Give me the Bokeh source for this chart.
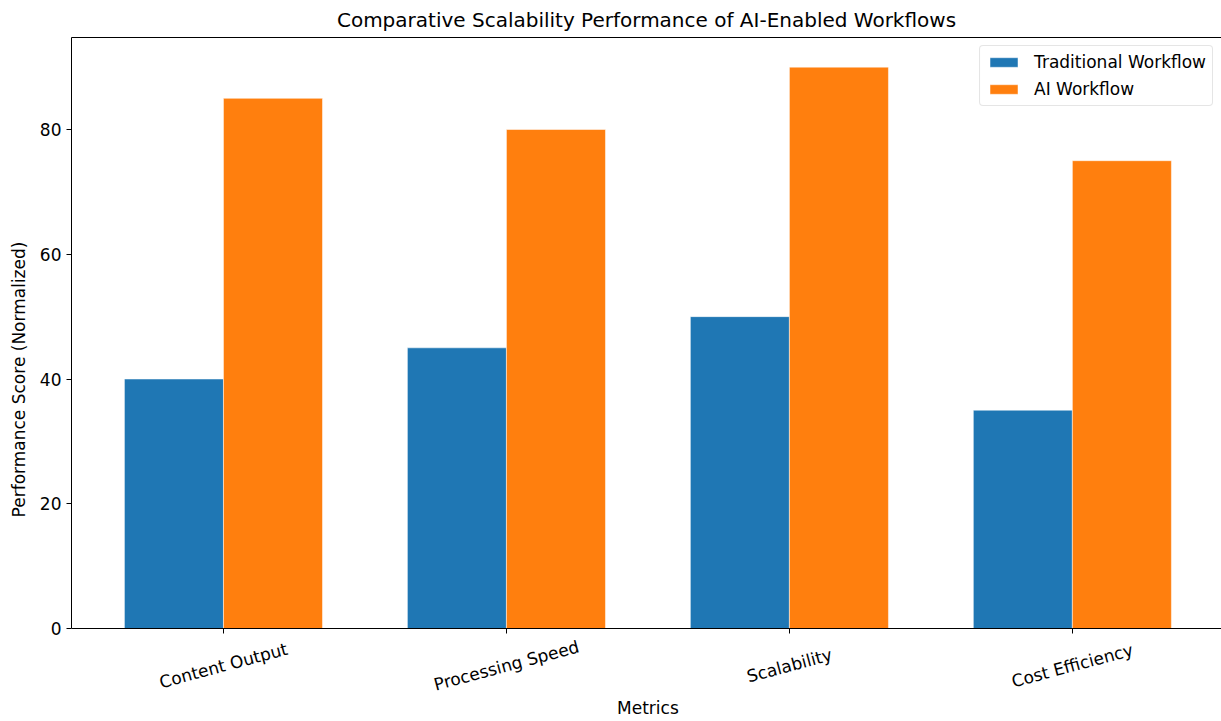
import math
from bokeh.plotting import figure
from bokeh.models import ColumnDataSource, FixedTicker, Range1d, Legend, LegendItem, LinearAxis
from bokeh.core.properties import value
from bokeh.embed import file_html
from bokeh.resources import INLINE

categories = ["Content Output", "Processing Speed", "Scalability", "Cost Efficiency"]
traditional = [40, 45, 50, 35]
ai = [85, 80, 90, 75]
series_names = ["Traditional Workflow", "AI Workflow"]
y_ticks = [0, 20, 40, 60, 80]

bar_w = 0.35
idx = list(range(len(categories)))
src_t = ColumnDataSource(dict(x=[i - bar_w / 2 for i in idx], top=traditional))
src_a = ColumnDataSource(dict(x=[i + bar_w / 2 for i in idx], top=ai))
src_lab = ColumnDataSource(dict(x=idx, y=[0] * len(idx), text=categories))

FONT = "DejaVu Sans"
Y_TOP = 94.75
Y_START = -14.91   # room below the zero line for the rotated category labels
X_START, X_END = -0.537, 3.527

p = figure(width=1221, height=721, output_backend="svg", toolbar_location=None,
           x_range=Range1d(X_START, X_END), y_range=Range1d(Y_START, Y_TOP),
           x_axis_location=None, y_axis_location=None,
           min_border_left=71, min_border_right=0, min_border_top=37, min_border_bottom=0)
p.title.text = "Comparative Scalability Performance of AI-Enabled Workflows"
p.title.align = "center"
p.title.text_font = FONT
p.title.text_font_size = "20px"
p.title.text_font_style = "normal"
p.title.text_color = "black"
p.title.standoff = 11

r1 = p.vbar(x="x", top="top", width=bar_w, bottom=0, source=src_t, fill_color="#1f77b4", line_color="white", line_width=0.5)
r2 = p.vbar(x="x", top="top", width=bar_w, bottom=0, source=src_a, fill_color="#ff7f0e", line_color="white", line_width=0.5)

p.xgrid.visible = False
p.ygrid.visible = False
p.outline_line_color = None

# x axis drawn at y = 0
xaxis = LinearAxis(fixed_location=0, ticker=FixedTicker(ticks=idx))
xaxis.major_label_overrides = {i: "" for i in idx}
xaxis.major_label_text_font_size = "0px"
xaxis.major_label_standoff = 0
# y axis, spine limited to the data area
yaxis = LinearAxis(ticker=FixedTicker(ticks=y_ticks), bounds=(0, Y_TOP))
yaxis.major_label_text_font = FONT
yaxis.major_label_text_font_size = "17px"
yaxis.major_label_text_color = "black"
yaxis.major_label_standoff = 5
yaxis.axis_label = "Performance Score (Normalized)"
yaxis.axis_label_text_font = FONT
yaxis.axis_label_text_font_size = "17px"
yaxis.axis_label_text_font_style = "normal"
yaxis.axis_label_text_color = "black"
yaxis.axis_label_standoff = 8
for ax in (xaxis, yaxis):
    ax.axis_line_color = "black"
    ax.major_tick_line_color = "black"
    ax.major_tick_out = 5
    ax.major_tick_in = 0
    ax.minor_tick_line_color = None
p.add_layout(xaxis, "below")
p.add_layout(yaxis, "left")

# top spine
top_axis = LinearAxis(ticker=FixedTicker(ticks=[]), major_tick_out=0, major_tick_in=0,
                      minor_tick_line_color=None, major_label_text_font_size="0px",
                      axis_line_color="black")
p.add_layout(top_axis, "above")

# rotated category labels centred under each tick
p.text(x="x", y="y", text="text", source=src_lab, angle=15 * math.pi / 180,
       y_offset=37, text_align="center", text_baseline="middle",
       text_font=value(FONT), text_font_size="17px", text_color="black")
p.text(x=[(idx[0] + idx[-1]) / 2], y=[0], text=["Metrics"], y_offset=80,
       text_align="center", text_baseline="middle",
       text_font=value(FONT), text_font_size="17px", text_color="black")

legend = Legend(items=[LegendItem(label=series_names[0], renderers=[r1]),
                       LegendItem(label=series_names[1], renderers=[r2])],
                location="top_right")
legend.label_text_font = FONT
legend.label_text_font_size = "17px"
legend.label_text_color = "black"
legend.border_line_color = "#cccccc"
legend.border_line_width = 1
legend.border_radius = 4
legend.glyph_width = 35
legend.glyph_height = 12
legend.label_standoff = 13
legend.spacing = 7
legend.padding = 6
legend.margin = 8
legend.background_fill_alpha = 0.8
p.add_layout(legend)

open("out.html", "w").write(file_html(p, INLINE))
